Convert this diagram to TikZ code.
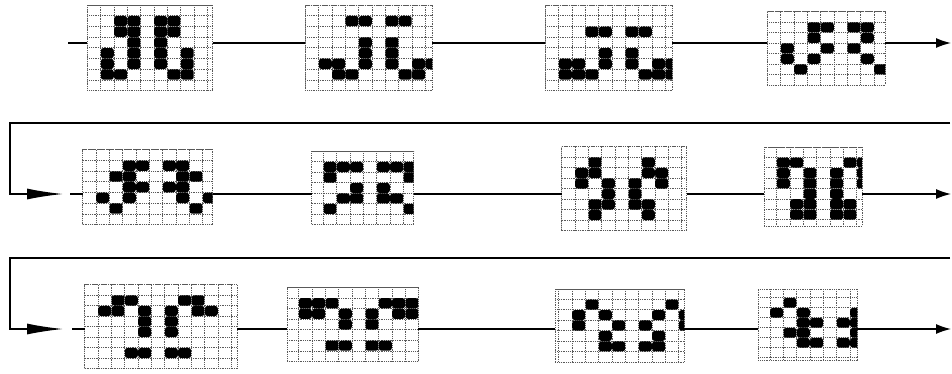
\documentclass[tikz,border=0pt]{standalone}
\usetikzlibrary{arrows.meta}
\tikzset{
  gridline/.style={densely dotted, line width=0.8pt, black!65},
  gridframe/.style={draw=black!65, densely dotted, line width=0.8pt, inner sep=0pt, outer sep=0pt, rectangle},
  cellfill/.style={fill=black, rounded corners=2.6pt},
  conn/.style={line width=1.4pt, black},
  endarrow/.style={conn, -{Latex[length=15pt, width=10pt]}},
  longarrow/.style={conn, -{Latex[length=36pt, width=11pt]}},
}
% #1 name, #2 X, #3 Y, #4 W, #5 H, #6 ox, #7 oy, #8 row height, #9 cells c/r
\newcommand\cagrid[9]{%
  \node[gridframe, minimum width=#4pt, minimum height=#5pt, anchor=north west] (#1) at (#2,#3) {};
  \begin{scope}
    \clip (#2,#3) rectangle ++(#4,#5);
    \foreach \k in {0,...,13} {\draw[gridline] ({#2+#6+\k*13.33},#3) -- ++(0,#5);}
    \foreach \k in {0,...,9} {\draw[gridline] (#2,{#3+#7+\k*#8}) -- ++(#4,0);}
    \foreach \c/\r in {#9} {
      \fill[cellfill] ({#2+#6+\c*13.33+0.2},{#3+#7+\r*#8+0.2}) rectangle ++(12.93,{#8-0.4});
    }
  \end{scope}
}
\begin{document}
\begin{tikzpicture}[x=1pt,y=-1pt]
\useasboundingbox[fill=white] (0,0) rectangle (952,373);
% row 1
\cagrid{g1}{87.3}{5}{125.4}{85.7}{0}{0}{10.7}{2/1,3/1,5/1,6/1,2/2,3/2,5/2,6/2,3/3,5/3,3/4,5/4,1/4,7/4,3/5,5/5,1/5,7/5,1/6,2/6,6/6,7/6}
\cagrid{g2}{305.3}{5}{127}{85.7}{0}{0}{10.7}{3/1,4/1,6/1,7/1,4/3,6/3,4/4,6/4,4/5,6/5,1/5,2/5,8/5,9/5,2/6,3/6,7/6,8/6}
\cagrid{g3}{545.3}{5}{127}{85.7}{0}{0}{10.7}{3/2,4/2,6/2,7/2,4/4,6/4,1/5,2/5,4/5,6/5,8/5,9/5,1/6,2/6,3/6,7/6,8/6,9/6}
\cagrid{g4}{767.3}{11.7}{118}{73.3}{0}{0}{10.47}{3/1,4/1,6/1,7/1,3/2,7/2,1/3,4/3,6/3,9/3,1/4,3/4,7/4,9/4,2/5,8/5}
% row 2
\cagrid{g5}{82.7}{149.7}{130}{75}{0}{0}{10.7}{3/1,4/1,6/1,7/1,2/2,3/2,7/2,8/2,3/3,4/3,6/3,7/3,1/4,3/4,7/4,9/4,2/5,8/5}
\cagrid{g6}{311.7}{151.3}{102}{73.3}{-1.67}{0}{10.47}{1/1,2/1,3/1,5/1,6/1,7/1,1/2,7/2,3/3,5/3,2/4,3/4,5/4,6/4,1/5,7/5}
\cagrid{g7}{561.7}{146.7}{125}{84}{0}{0}{10.5}{2/1,2/2,1/2,1/3,3/3,3/4,3/5,2/5,2/6,6/1,6/2,7/2,7/3,5/3,5/4,5/5,6/5,6/6}
\cagrid{g8}{764}{147}{98}{79}{-0.67}{0}{10.4}{1/1,2/1,6/1,7/1,1/2,3/2,5/2,7/2,1/3,3/3,5/3,7/3,3/4,5/4,2/5,3/5,5/5,6/5,2/6,3/6,5/6,6/6}
% row 3
\cagrid{g9}{84.7}{284.7}{152.6}{84}{0}{0}{10.5}{2/1,3/1,7/1,8/1,1/2,2/2,4/2,6/2,8/2,9/2,4/3,6/3,4/4,6/4,3/6,4/6,6/6,7/6}
\cagrid{g10}{287}{287.3}{131}{74.3}{-1.67}{0}{10.6}{1/1,2/1,3/1,7/1,8/1,9/1,1/2,2/2,4/2,6/2,8/2,9/2,4/3,6/3,3/5,4/5,6/5,7/5}
\cagrid{g11}{555.3}{289}{129}{73}{3.4}{0}{10.43}{2/1,8/1,1/2,3/2,7/2,9/2,1/3,4/3,6/3,9/3,3/4,7/4,3/5,4/5,6/5,7/5}
\cagrid{g12}{758.3}{289}{99}{71}{-1.67}{-1.3}{10}{2/1,8/1,1/2,3/2,7/2,9/2,3/3,4/3,6/3,7/3,2/4,3/4,7/4,8/4,3/5,4/5,6/5,7/5}
% helper coordinates
\coordinate (r1) at (0,43);
\coordinate (r2) at (0,194);
\coordinate (r3) at (0,329);
\coordinate (s1) at (68,43);
\coordinate (s2) at (70,194);
\coordinate (s3) at (72,329);
\coordinate (e1) at (951,43);
\coordinate (e2) at (951,194);
\coordinate (e3) at (951,329);
\coordinate (ra) at (950,123);
\coordinate (rb) at (10,123);
\coordinate (rc) at (63,194);
\coordinate (rd) at (950,258);
\coordinate (re) at (10,258);
\coordinate (rf) at (63,329);
% row 1 connectors
\draw[conn] (s1) -- (g1.west |- r1);
\draw[conn] (g1.east |- r1) -- (g2.west |- r1);
\draw[conn] (g2.east |- r1) -- (g3.west |- r1);
\draw[conn] (g3.east |- r1) -- (g4.west |- r1);
\draw[endarrow] (g4.east |- r1) -- (e1);
% return 1
\draw[longarrow] (ra) -- (rb) |- (rc);
% row 2
\draw[conn] (s2) -- (g5.west |- r2);
\draw[conn] (g5.east |- r2) -- (g6.west |- r2);
\draw[conn] (g6.east |- r2) -- (g7.west |- r2);
\draw[conn] (g7.east |- r2) -- (g8.west |- r2);
\draw[endarrow] (g8.east |- r2) -- (e2);
% return 2
\draw[longarrow] (rd) -- (re) |- (rf);
% row 3
\draw[conn] (s3) -- (g9.west |- r3);
\draw[conn] (g9.east |- r3) -- (g10.west |- r3);
\draw[conn] (g10.east |- r3) -- (g11.west |- r3);
\draw[conn] (g11.east |- r3) -- (g12.west |- r3);
\draw[endarrow] (g12.east |- r3) -- (e3);
\end{tikzpicture}
\end{document}
